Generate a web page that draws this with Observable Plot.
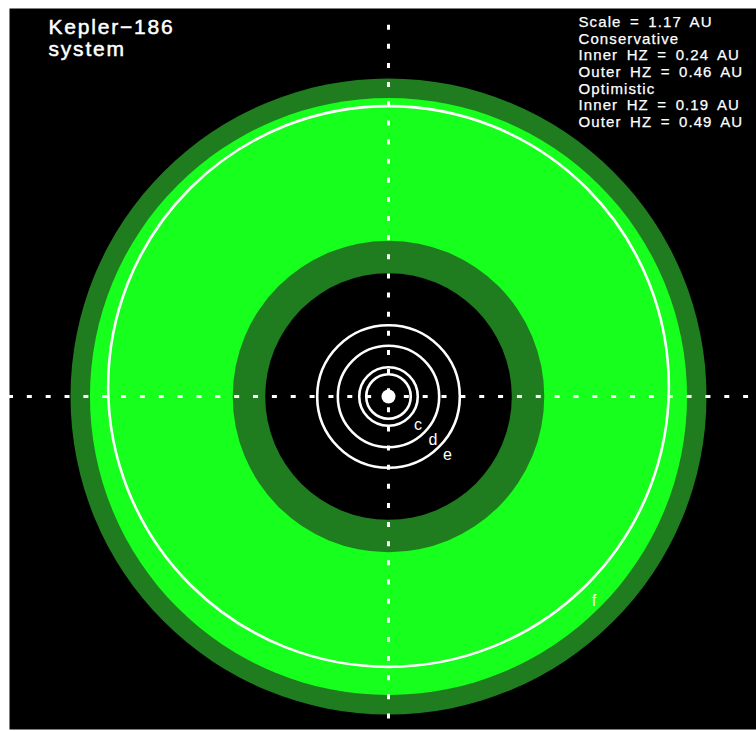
<!DOCTYPE html>
<html>
<head>
<meta charset="utf-8">
<script src="https://cdn.jsdelivr.net/npm/d3@7"></script>
<script src="https://cdn.jsdelivr.net/npm/@observablehq/plot@0.6"></script>
<style>
  body { margin: 0; background: #fff; }
  #chart svg { display: block; }
</style>
</head>
<body>
<div id="chart"></div>
<script>
// Habitable zone limits (AU), drawn outermost first
const hzZone   = ["Optimistic", "Conservative", "Optimistic", "Inside"];
const hzRadius = [0.49, 0.46, 0.24, 0.19];

// Planets: semi-major axis (AU) and orbit centre offset (AU)
const planetNames  = ["b", "c", "d", "e", "f"];
const planetA      = [0.0343, 0.0451, 0.0781, 0.1099, 0.432];
const planetOffset = [0, 0, 0, 0, 0.0156];
const labelledPlanets = ["c", "d", "e", "f"];

// Texts
const titleLines = ["Kepler\u2212186", "system"];
const infoLines = [
  "Scale = 1.17 AU",
  "Conservative",
  "Inner HZ = 0.24 AU",
  "Outer HZ = 0.46 AU",
  "Optimistic",
  "Inner HZ = 0.19 AU",
  "Outer HZ = 0.49 AU"
];

const hz = hzZone.map((z, i) => ({zone: z, r: hzRadius[i]}));
const orbits = planetNames.map((n, i) => ({name: n, a: planetA[i], cy: planetOffset[i]}));
const labels = orbits.filter(d => labelledPlanets.includes(d.name))
  .map(d => ({name: d.name, x: d.a * Math.SQRT1_2, y: -d.a * Math.SQRT1_2}));

const font = "'Liberation Sans', Arial, Helvetica, sans-serif";

const plot = Plot.plot({
  width: 756,
  height: 731,
  marginTop: 8,
  marginLeft: 9,
  marginRight: 0,
  marginBottom: 2,
  style: {fontFamily: font, background: "white"},
  x: {domain: [-0.58942, 0.57232], axis: null},
  y: {domain: [-0.51788, 0.60342], axis: null},
  r: {type: "linear", domain: [0, 0.49], range: [0, 318]},
  color: {domain: ["Optimistic", "Conservative", "Inside"], range: ["#1f7d1f", "#17ff1c", "#000000"]},
  marks: [
    Plot.frame({fill: "black", stroke: "none"}),
    Plot.dot(hz, {x: () => 0, y: () => 0, r: "r", fill: "zone", stroke: "none", sort: null}),
    Plot.ruleY([0], {x1: -0.5910, x2: 0.5600, stroke: "white", strokeWidth: 3, strokeDasharray: "5,13.85"}),
    Plot.ruleX([0], {y1: 0.5774, y2: -0.5015, stroke: "white", strokeWidth: 3, strokeDasharray: "5,14.13"}),
    Plot.dot(orbits, {x: () => 0, y: "cy", r: "a", stroke: "white", strokeWidth: 2.6, fill: "none"}),
    Plot.dot([0], {x: () => 0, y: () => 0, r: 7, fill: "white", stroke: "none"}),
    Plot.text(labels, {x: "x", y: "y", text: "name", dx: 9, dy: 8, fill: "white", fontSize: 16, textAnchor: "middle", lineAnchor: "middle"}),
    Plot.text([titleLines.join("\n")], {frameAnchor: "top-left", dx: 39, dy: 10, fill: "white", stroke: "white", strokeWidth: 0.5, fontSize: 21, lineHeight: 1.05, lineAnchor: "top"}),
    Plot.text([infoLines.join("\n")], {frameAnchor: "top-left", dx: 569, dy: 7, fill: "white", stroke: "white", strokeWidth: 0.25, fontSize: 15, lineHeight: 1.107, lineAnchor: "top"})
  ]
});

// letter spacing to mimic the original vector font
d3.select(plot).selectAll("text").each(function() {
  const t = this.textContent;
  if (t.startsWith("Kepler")) d3.select(this).style("letter-spacing", "1.8px");
  else if (t.startsWith("Scale")) d3.select(this).style("letter-spacing", "1.1px").style("word-spacing", "3.2px");
});

document.getElementById("chart").appendChild(plot);
</script>
</body>
</html>
